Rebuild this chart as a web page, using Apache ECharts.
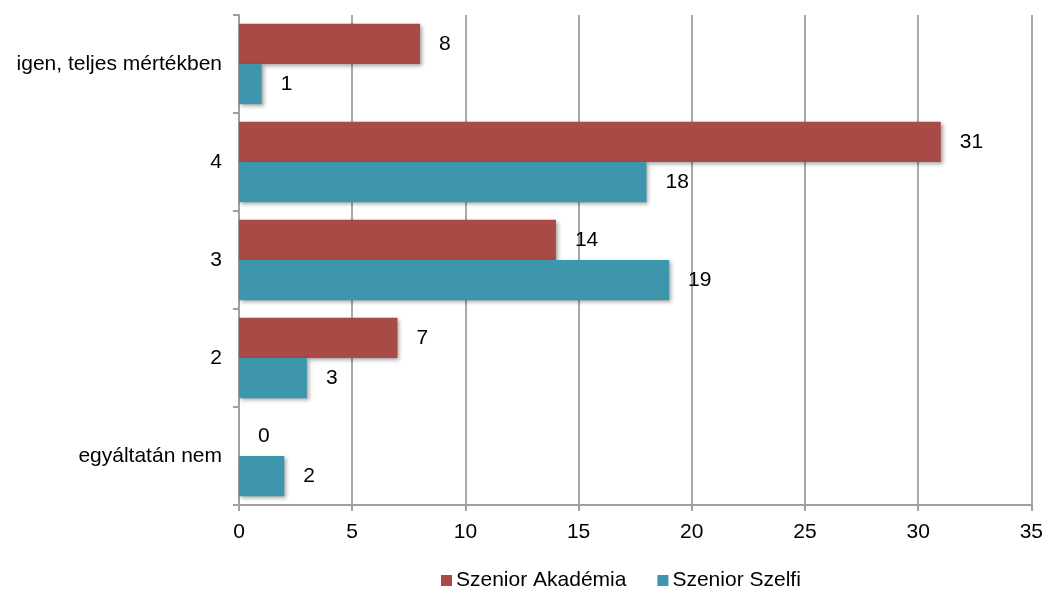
<!DOCTYPE html>
<html>
<head>
<meta charset="utf-8">
<script src="https://cdn.jsdelivr.net/npm/echarts@6/dist/echarts.min.js"></script>
<style>
html,body{margin:0;padding:0;background:#fff;}
#chart{width:1046px;height:589px;}
</style>
</head>
<body>
<div id="chart"></div>
<script>
const categories = ['egyáltatán nem', '2', '3', '4', 'igen, teljes mértékben'];
const seriesNames = ['Szenior Akadémia', 'Szenior Szelfi'];
const akademia = [0, 7, 14, 31, 8];
const szelfi = [2, 3, 19, 18, 1];
const xTicks = { min: 0, max: 35, interval: 5 };

const font = 'Liberation Sans, Arial, sans-serif';
const fs = 21;
const chart = echarts.init(document.getElementById('chart'));
const labelCfg = { show: true, position: 'right', distance: 19, color: '#000', fontSize: fs, fontFamily: font };
const shadow = { shadowColor: 'rgba(0,0,0,0.35)', shadowBlur: 4, shadowOffsetX: 2, shadowOffsetY: 2 };
chart.setOption({
  animation: false,
  backgroundColor: '#fff',
  grid: { left: 239, right: 14, top: 15, bottom: 84, containLabel: false },
  legend: {
    data: seriesNames,
    left: 441,
    top: 570,
    padding: 0,
    itemWidth: 11, itemHeight: 11, itemGap: 31,
    icon: 'rect',
    textStyle: { fontSize: fs, fontFamily: font, color: '#000', padding: [0,0,0,-1] }
  },
  xAxis: {
    type: 'value', min: xTicks.min, max: xTicks.max, interval: xTicks.interval,
    axisLine: { show: true, lineStyle: { color: '#a0a0a0', width: 2 } },
    axisTick: { show: true, length: 6, lineStyle: { color: '#a0a0a0', width: 2 } },
    axisLabel: { fontSize: fs, fontFamily: font, color: '#000', margin: 17 },
    splitLine: { show: true, lineStyle: { color: '#a8a8a8', width: 2 } }
  },
  yAxis: {
    type: 'category', data: categories,
    axisLine: { show: true, lineStyle: { color: '#a0a0a0', width: 2 } },
    axisTick: { show: true, length: 6, lineStyle: { color: '#a0a0a0', width: 2 } },
    axisLabel: { fontSize: fs, fontFamily: font, color: '#000', margin: 17 }
  },
  series: [
    { name: seriesNames[0], type: 'bar', data: akademia, barGap: '0%', barCategoryGap: '18%',
      itemStyle: Object.assign({ color: '#A84A45' }, shadow), label: labelCfg },
    { name: seriesNames[1], type: 'bar', data: szelfi, barGap: '0%', barCategoryGap: '18%',
      itemStyle: Object.assign({ color: '#3D96AB' }, shadow), label: labelCfg }
  ]
});
</script>
</body>
</html>
